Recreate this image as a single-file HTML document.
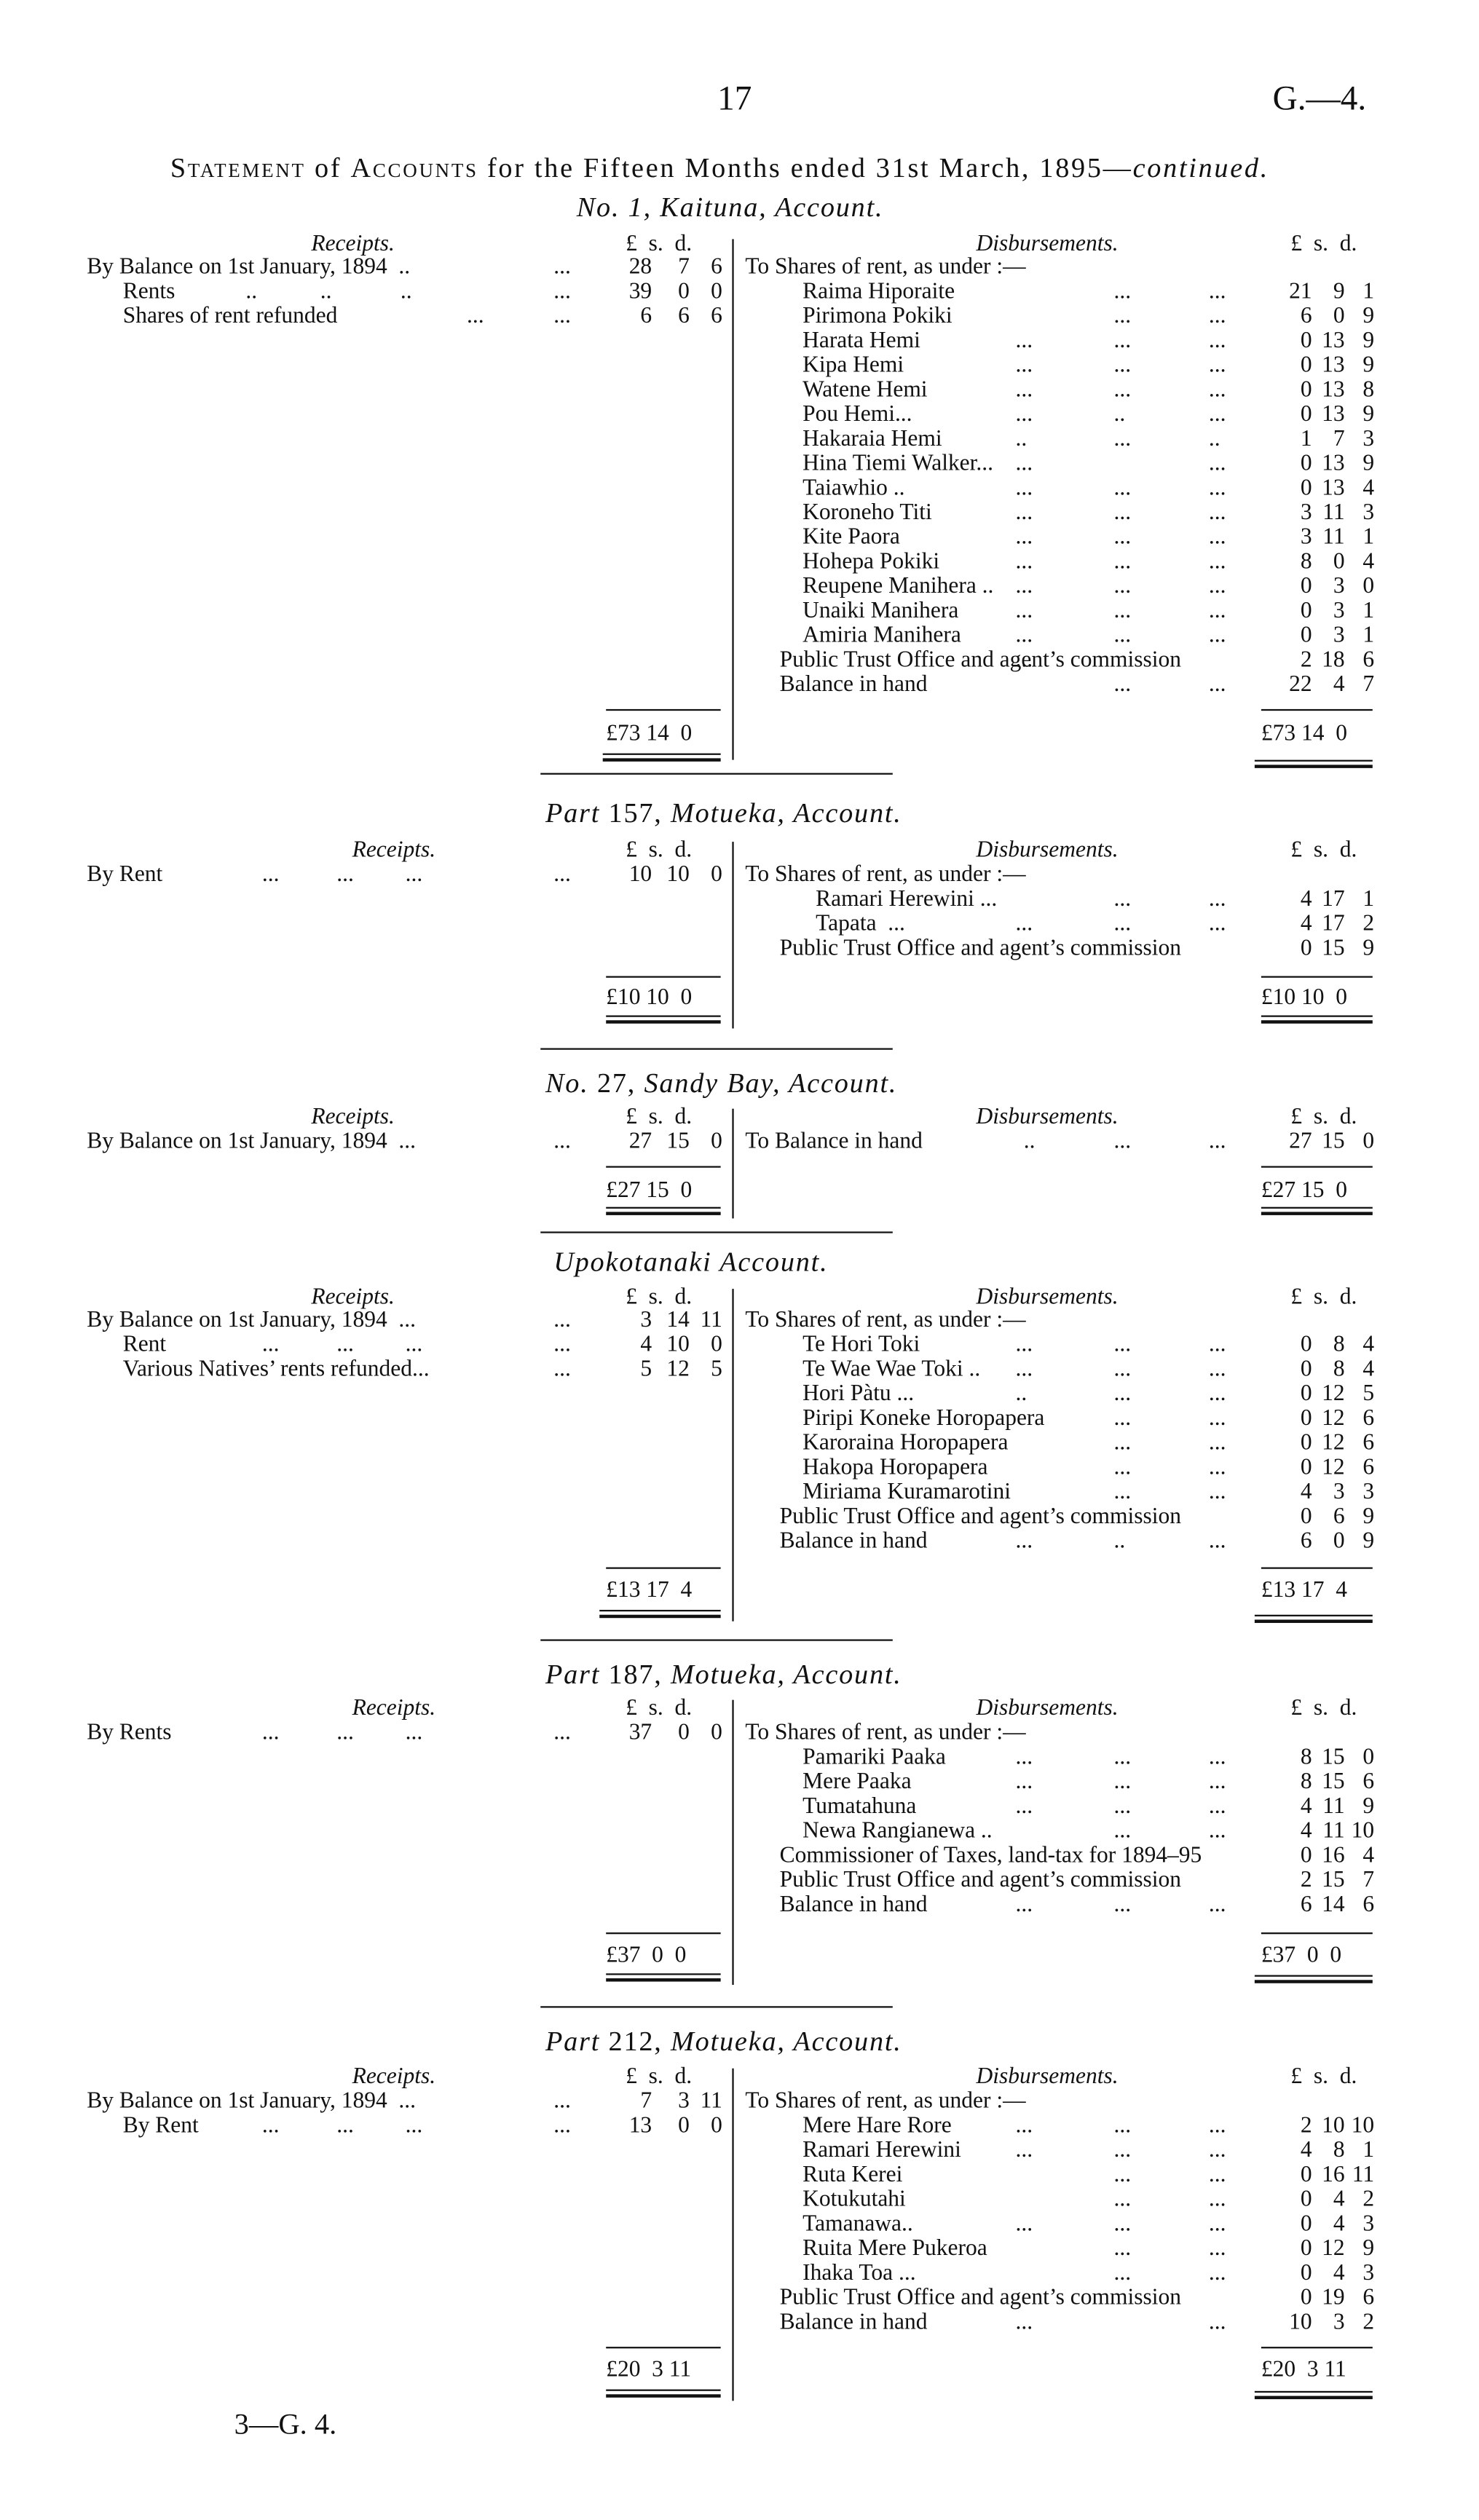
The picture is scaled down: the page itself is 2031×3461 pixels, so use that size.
<!DOCTYPE html>
<html><head><meta charset="utf-8"><style>
html,body{margin:0;padding:0;background:#fff}
#w{position:relative;width:2031px;height:3461px;overflow:hidden;background:#fff}
#s{position:absolute;left:0;top:0;width:903px;height:1539px;transform:scale(2.2492);transform-origin:0 0;font-family:"Liberation Serif",serif;color:#111}
.p{position:absolute;white-space:nowrap;line-height:16px;font-size:14px}
.r{text-align:right}
.i{font-style:italic}
.hd{font-size:17px;line-height:18px;letter-spacing:0.8px}
.h{position:absolute;background:#111;height:1px}
.v{position:absolute;background:#111;width:1px;left:447px}
</style></head><body><div id="w"><div id="s">
<div class="p" style="left:438px;top:48px;font-size:21px;line-height:24px">17</div>
<div class="p" style="left:777px;top:48px;font-size:21px;line-height:24px">G.—4.</div>
<div class="p" style="left:104px;top:94px;font-size:17px;line-height:18px;letter-spacing:1.2px"><span style="font-variant:small-caps">Statement</span> of <span style="font-variant:small-caps">Accounts</span> for the Fifteen Months ended 31st March, 1895—<i>continued.</i></div>

<!-- Kaituna -->
<div class="p i hd" style="left:352px;top:118px">No. 1, Kaituna, Account.</div>
<div class="p i" style="left:190px;top:142px">Receipts.</div>
<div class="p" style="left:382px;top:142px">£&nbsp;&nbsp;s.&nbsp;&nbsp;d.</div>
<div class="p i" style="left:596px;top:142px">Disbursements.</div>
<div class="p" style="left:788px;top:142px">£&nbsp;&nbsp;s.&nbsp;&nbsp;d.</div>
<div class="v" style="top:146px;height:318px"></div>
<div class="p" style="left:53px;top:156px">By Balance on 1st January, 1894 &nbsp;..</div><div class="p" style="left:338px;top:156px">...</div>
<div class="p r" style="right:505px;top:156px">28</div><div class="p r" style="right:482px;top:156px">7</div><div class="p r" style="right:462px;top:156px">6</div>
<div class="p" style="left:75px;top:171px">Rents</div><div class="p" style="left:150px;top:171px">..&nbsp;&nbsp;&nbsp;&nbsp;&nbsp;&nbsp;&nbsp;&nbsp;&nbsp;&nbsp;&nbsp;..&nbsp;&nbsp;&nbsp;&nbsp;&nbsp;&nbsp;&nbsp;&nbsp;&nbsp;&nbsp;&nbsp;&nbsp;..</div><div class="p" style="left:338px;top:171px">...</div>
<div class="p r" style="right:505px;top:171px">39</div><div class="p r" style="right:482px;top:171px">0</div><div class="p r" style="right:462px;top:171px">0</div>
<div class="p" style="left:75px;top:186px">Shares of rent refunded</div><div class="p" style="left:285px;top:186px">...</div><div class="p" style="left:338px;top:186px">...</div>
<div class="p r" style="right:505px;top:186px">6</div><div class="p r" style="right:482px;top:186px">6</div><div class="p r" style="right:462px;top:186px">6</div>
<div class="p" style="left:455px;top:156px">To Shares of rent, as under :—</div>

<div class="p" style="left:490px;top:171px">Raima Hiporaite</div>
<div class="p" style="left:490px;top:186px">Pirimona Pokiki</div>
<div class="p" style="left:490px;top:201px">Harata Hemi</div>
<div class="p" style="left:490px;top:216px">Kipa Hemi</div>
<div class="p" style="left:490px;top:231px">Watene Hemi</div>
<div class="p" style="left:490px;top:246px">Pou Hemi...</div>
<div class="p" style="left:490px;top:261px">Hakaraia Hemi</div>
<div class="p" style="left:490px;top:276px">Hina Tiemi Walker...</div>
<div class="p" style="left:490px;top:291px">Taiawhio ..</div>
<div class="p" style="left:490px;top:306px">Koroneho Titi</div>
<div class="p" style="left:490px;top:321px">Kite Paora</div>
<div class="p" style="left:490px;top:336px">Hohepa Pokiki</div>
<div class="p" style="left:490px;top:351px">Reupene Manihera ..</div>
<div class="p" style="left:490px;top:366px">Unaiki Manihera</div>
<div class="p" style="left:490px;top:381px">Amiria Manihera</div>
<div class="p" style="left:476px;top:396px">Public Trust Office and agent’s commission</div>
<div class="p" style="left:476px;top:411px">Balance in hand</div>
<div class="p" style="left:620px;top:201px;line-height:15px">...<br>...<br>...<br>...<br>..<br>...<br>...<br>...<br>...<br>...<br>...<br>...<br>...<br>...</div>
<div class="p" style="left:680px;top:171px;line-height:15px">...<br>...<br>...<br>...<br>...<br>..<br>...<br><br>...<br>...<br>...<br>...<br>...<br>...<br>...<br><br>...</div>
<div class="p" style="left:738px;top:171px;line-height:15px">...<br>...<br>...<br>...<br>...<br>...<br>..<br>...<br>...<br>...<br>...<br>...<br>...<br>...<br>...<br><br>...</div>
<div class="p r" style="right:102px;top:171px;line-height:15px">21<br>6<br>0<br>0<br>0<br>0<br>1<br>0<br>0<br>3<br>3<br>8<br>0<br>0<br>0<br>2<br>22</div>
<div class="p r" style="right:82px;top:171px;line-height:15px">9<br>0<br>13<br>13<br>13<br>13<br>7<br>13<br>13<br>11<br>11<br>0<br>3<br>3<br>3<br>18<br>4</div>
<div class="p r" style="right:64px;top:171px;line-height:15px">1<br>9<br>9<br>9<br>8<br>9<br>3<br>9<br>4<br>3<br>1<br>4<br>0<br>1<br>1<br>6<br>7</div>
<div class="h" style="left:370px;width:70px;top:433px"></div><div class="h" style="left:770px;width:68px;top:433px"></div>
<div class="p" style="left:370px;top:441px">£73 14 &nbsp;0</div><div class="p" style="left:770px;top:441px">£73 14 &nbsp;0</div>
<div class="h" style="left:368px;width:72px;top:460px"></div><div class="h" style="left:368px;width:72px;top:463px;height:2px"></div>
<div class="h" style="left:766px;width:72px;top:464px"></div><div class="h" style="left:766px;width:72px;top:467px;height:2px"></div>
<div class="h" style="left:330px;width:215px;top:472px"></div>

<!-- Part 157 -->
<div class="p i hd" style="left:333px;top:488px">Part <span style="font-style:normal">157,</span> Motueka, Account.</div>
<div class="p i" style="left:215px;top:512px">Receipts.</div>
<div class="p" style="left:382px;top:512px">£&nbsp;&nbsp;s.&nbsp;&nbsp;d.</div>
<div class="p i" style="left:596px;top:512px">Disbursements.</div>
<div class="p" style="left:788px;top:512px">£&nbsp;&nbsp;s.&nbsp;&nbsp;d.</div>
<div class="v" style="top:514px;height:114px"></div>
<div class="p" style="left:53px;top:527px">By Rent</div><div class="p" style="left:160px;top:527px">...&nbsp;&nbsp;&nbsp;&nbsp;&nbsp;&nbsp;&nbsp;&nbsp;&nbsp;&nbsp;...&nbsp;&nbsp;&nbsp;&nbsp;&nbsp;&nbsp;&nbsp;&nbsp;&nbsp;...</div><div class="p" style="left:338px;top:527px">...</div>
<div class="p r" style="right:505px;top:527px">10</div><div class="p r" style="right:482px;top:527px">10</div><div class="p r" style="right:462px;top:527px">0</div>
<div class="p" style="left:455px;top:527px">To Shares of rent, as under :—</div>
<div class="p" style="left:498px;top:542px">Ramari Herewini ...</div>
<div class="p" style="left:498px;top:557px">Tapata &nbsp;...</div>
<div class="p" style="left:476px;top:572px">Public Trust Office and agent’s commission</div>
<div class="p" style="left:620px;top:557px">...</div>
<div class="p" style="left:680px;top:542px;line-height:15px">...<br>...</div>
<div class="p" style="left:738px;top:542px;line-height:15px">...<br>...</div>
<div class="p r" style="right:102px;top:542px;line-height:15px">4<br>4<br>0</div>
<div class="p r" style="right:82px;top:542px;line-height:15px">17<br>17<br>15</div>
<div class="p r" style="right:64px;top:542px;line-height:15px">1<br>2<br>9</div>
<div class="h" style="left:370px;width:70px;top:596px"></div><div class="h" style="left:770px;width:68px;top:596px"></div>
<div class="p" style="left:370px;top:602px">£10 10 &nbsp;0</div><div class="p" style="left:770px;top:602px">£10 10 &nbsp;0</div>
<div class="h" style="left:370px;width:70px;top:620px"></div><div class="h" style="left:370px;width:70px;top:623px;height:2px"></div>
<div class="h" style="left:770px;width:68px;top:620px"></div><div class="h" style="left:770px;width:68px;top:623px;height:2px"></div>
<div class="h" style="left:330px;width:215px;top:640px"></div>

<!-- No 27 -->
<div class="p i hd" style="left:333px;top:653px">No. <span style="font-style:normal">27,</span> Sandy Bay, Account.</div>
<div class="p i" style="left:190px;top:675px">Receipts.</div>
<div class="p" style="left:382px;top:675px">£&nbsp;&nbsp;s.&nbsp;&nbsp;d.</div>
<div class="p i" style="left:596px;top:675px">Disbursements.</div>
<div class="p" style="left:788px;top:675px">£&nbsp;&nbsp;s.&nbsp;&nbsp;d.</div>
<div class="v" style="top:677px;height:67px"></div>
<div class="p" style="left:53px;top:690px">By Balance on 1st January, 1894 &nbsp;...</div><div class="p" style="left:338px;top:690px">...</div>
<div class="p r" style="right:505px;top:690px">27</div><div class="p r" style="right:482px;top:690px">15</div><div class="p r" style="right:462px;top:690px">0</div>
<div class="p" style="left:455px;top:690px">To Balance in hand</div><div class="p" style="left:625px;top:690px">..</div><div class="p" style="left:680px;top:690px">...</div><div class="p" style="left:738px;top:690px">...</div>
<div class="p r" style="right:102px;top:690px">27</div><div class="p r" style="right:82px;top:690px">15</div><div class="p r" style="right:64px;top:690px">0</div>
<div class="h" style="left:370px;width:70px;top:712px"></div><div class="h" style="left:770px;width:68px;top:712px"></div>
<div class="p" style="left:370px;top:720px">£27 15 &nbsp;0</div><div class="p" style="left:770px;top:720px">£27 15 &nbsp;0</div>
<div class="h" style="left:370px;width:70px;top:737px"></div><div class="h" style="left:370px;width:70px;top:740px;height:2px"></div>
<div class="h" style="left:770px;width:68px;top:737px"></div><div class="h" style="left:770px;width:68px;top:740px;height:2px"></div>
<div class="h" style="left:330px;width:215px;top:752px"></div>

<!-- Upokotanaki -->
<div class="p i hd" style="left:338px;top:762px">Upokotanaki Account.</div>
<div class="p i" style="left:190px;top:785px">Receipts.</div>
<div class="p" style="left:382px;top:785px">£&nbsp;&nbsp;s.&nbsp;&nbsp;d.</div>
<div class="p i" style="left:596px;top:785px">Disbursements.</div>
<div class="p" style="left:788px;top:785px">£&nbsp;&nbsp;s.&nbsp;&nbsp;d.</div>
<div class="v" style="top:787px;height:203px"></div>
<div class="p" style="left:53px;top:799px">By Balance on 1st January, 1894 &nbsp;...</div>
<div class="p" style="left:75px;top:814px">Rent</div><div class="p" style="left:160px;top:814px">...&nbsp;&nbsp;&nbsp;&nbsp;&nbsp;&nbsp;&nbsp;&nbsp;&nbsp;&nbsp;...&nbsp;&nbsp;&nbsp;&nbsp;&nbsp;&nbsp;&nbsp;&nbsp;&nbsp;...</div>
<div class="p" style="left:75px;top:829px">Various Natives’ rents refunded...</div>
<div class="p" style="left:338px;top:799px;line-height:15px">...<br>...<br>...</div>
<div class="p r" style="right:505px;top:799px;line-height:15px">3<br>4<br>5</div>
<div class="p r" style="right:482px;top:799px;line-height:15px">14<br>10<br>12</div>
<div class="p r" style="right:462px;top:799px;line-height:15px">11<br>0<br>5</div>
<div class="p" style="left:455px;top:799px">To Shares of rent, as under :—</div>
<div class="p" style="left:490px;top:814px;line-height:15px">Te Hori Toki<br>Te Wae Wae Toki ..<br>Hori Pàtu ...<br>Piripi Koneke Horopapera<br>Karoraina Horopapera<br>Hakopa Horopapera<br>Miriama Kuramarotini</div>
<div class="p" style="left:476px;top:919px;line-height:15px">Public Trust Office and agent’s commission<br>Balance in hand</div>
<div class="p" style="left:620px;top:814px;line-height:15px">...<br>...<br>..<br><br><br><br><br><br>...</div>
<div class="p" style="left:680px;top:814px;line-height:15px">...<br>...<br>...<br>...<br>...<br>...<br>...<br><br>..</div>
<div class="p" style="left:738px;top:814px;line-height:15px">...<br>...<br>...<br>...<br>...<br>...<br>...<br><br>...</div>
<div class="p r" style="right:102px;top:814px;line-height:15px">0<br>0<br>0<br>0<br>0<br>0<br>4<br>0<br>6</div>
<div class="p r" style="right:82px;top:814px;line-height:15px">8<br>8<br>12<br>12<br>12<br>12<br>3<br>6<br>0</div>
<div class="p r" style="right:64px;top:814px;line-height:15px">4<br>4<br>5<br>6<br>6<br>6<br>3<br>9<br>9</div>
<div class="h" style="left:370px;width:70px;top:957px"></div><div class="h" style="left:770px;width:68px;top:957px"></div>
<div class="p" style="left:370px;top:964px">£13 17 &nbsp;4</div><div class="p" style="left:770px;top:964px">£13 17 &nbsp;4</div>
<div class="h" style="left:366px;width:74px;top:983px"></div><div class="h" style="left:366px;width:74px;top:986px;height:2px"></div>
<div class="h" style="left:766px;width:72px;top:986px"></div><div class="h" style="left:766px;width:72px;top:989px;height:2px"></div>
<div class="h" style="left:330px;width:215px;top:1001px"></div>

<!-- Part 187 -->
<div class="p i hd" style="left:333px;top:1014px">Part <span style="font-style:normal">187,</span> Motueka, Account.</div>
<div class="p i" style="left:215px;top:1036px">Receipts.</div>
<div class="p" style="left:382px;top:1036px">£&nbsp;&nbsp;s.&nbsp;&nbsp;d.</div>
<div class="p i" style="left:596px;top:1036px">Disbursements.</div>
<div class="p" style="left:788px;top:1036px">£&nbsp;&nbsp;s.&nbsp;&nbsp;d.</div>
<div class="v" style="top:1038px;height:174px"></div>
<div class="p" style="left:53px;top:1051px">By Rents</div><div class="p" style="left:160px;top:1051px">...&nbsp;&nbsp;&nbsp;&nbsp;&nbsp;&nbsp;&nbsp;&nbsp;&nbsp;&nbsp;...&nbsp;&nbsp;&nbsp;&nbsp;&nbsp;&nbsp;&nbsp;&nbsp;&nbsp;...</div><div class="p" style="left:338px;top:1051px">...</div>
<div class="p r" style="right:505px;top:1051px">37</div><div class="p r" style="right:482px;top:1051px">0</div><div class="p r" style="right:462px;top:1051px">0</div>
<div class="p" style="left:455px;top:1051px">To Shares of rent, as under :—</div>
<div class="p" style="left:490px;top:1066px;line-height:15px">Pamariki Paaka<br>Mere Paaka<br>Tumatahuna<br>Newa Rangianewa ..</div>
<div class="p" style="left:476px;top:1126px;line-height:15px">Commissioner of Taxes, land-tax for 1894–95<br>Public Trust Office and agent’s commission<br>Balance in hand</div>
<div class="p" style="left:620px;top:1066px;line-height:15px">...<br>...<br>...<br><br><br><br>...</div>
<div class="p" style="left:680px;top:1066px;line-height:15px">...<br>...<br>...<br>...<br><br><br>...</div>
<div class="p" style="left:738px;top:1066px;line-height:15px">...<br>...<br>...<br>...<br><br><br>...</div>
<div class="p r" style="right:102px;top:1066px;line-height:15px">8<br>8<br>4<br>4<br>0<br>2<br>6</div>
<div class="p r" style="right:82px;top:1066px;line-height:15px">15<br>15<br>11<br>11<br>16<br>15<br>14</div>
<div class="p r" style="right:64px;top:1066px;line-height:15px">0<br>6<br>9<br>10<br>4<br>7<br>6</div>
<div class="h" style="left:370px;width:70px;top:1180px"></div><div class="h" style="left:770px;width:68px;top:1180px"></div>
<div class="p" style="left:370px;top:1187px">£37 &nbsp;0 &nbsp;0</div><div class="p" style="left:770px;top:1187px">£37 &nbsp;0 &nbsp;0</div>
<div class="h" style="left:370px;width:70px;top:1205px"></div><div class="h" style="left:370px;width:70px;top:1208px;height:2px"></div>
<div class="h" style="left:766px;width:72px;top:1206px"></div><div class="h" style="left:766px;width:72px;top:1209px;height:2px"></div>
<div class="h" style="left:330px;width:215px;top:1225px"></div>

<!-- Part 212 -->
<div class="p i hd" style="left:333px;top:1238px">Part <span style="font-style:normal">212,</span> Motueka, Account.</div>
<div class="p i" style="left:215px;top:1261px">Receipts.</div>
<div class="p" style="left:382px;top:1261px">£&nbsp;&nbsp;s.&nbsp;&nbsp;d.</div>
<div class="p i" style="left:596px;top:1261px">Disbursements.</div>
<div class="p" style="left:788px;top:1261px">£&nbsp;&nbsp;s.&nbsp;&nbsp;d.</div>
<div class="v" style="top:1263px;height:203px"></div>
<div class="p" style="left:53px;top:1276px">By Balance on 1st January, 1894 &nbsp;...</div>
<div class="p" style="left:75px;top:1291px">By Rent</div><div class="p" style="left:160px;top:1291px">...&nbsp;&nbsp;&nbsp;&nbsp;&nbsp;&nbsp;&nbsp;&nbsp;&nbsp;&nbsp;...&nbsp;&nbsp;&nbsp;&nbsp;&nbsp;&nbsp;&nbsp;&nbsp;&nbsp;...</div>
<div class="p" style="left:338px;top:1276px;line-height:15px">...<br>...</div>
<div class="p r" style="right:505px;top:1276px;line-height:15px">7<br>13</div>
<div class="p r" style="right:482px;top:1276px;line-height:15px">3<br>0</div>
<div class="p r" style="right:462px;top:1276px;line-height:15px">11<br>0</div>
<div class="p" style="left:455px;top:1276px">To Shares of rent, as under :—</div>
<div class="p" style="left:490px;top:1291px;line-height:15px">Mere Hare Rore<br>Ramari Herewini<br>Ruta Kerei<br>Kotukutahi<br>Tamanawa..<br>Ruita Mere Pukeroa<br>Ihaka Toa ...</div>
<div class="p" style="left:476px;top:1396px;line-height:15px">Public Trust Office and agent’s commission<br>Balance in hand</div>
<div class="p" style="left:620px;top:1291px;line-height:15px">...<br>...<br><br><br>...<br><br><br><br>...</div>
<div class="p" style="left:680px;top:1291px;line-height:15px">...<br>...<br>...<br>...<br>...<br>...<br>...</div>
<div class="p" style="left:738px;top:1291px;line-height:15px">...<br>...<br>...<br>...<br>...<br>...<br>...<br><br>...</div>
<div class="p r" style="right:102px;top:1291px;line-height:15px">2<br>4<br>0<br>0<br>0<br>0<br>0<br>0<br>10</div>
<div class="p r" style="right:82px;top:1291px;line-height:15px">10<br>8<br>16<br>4<br>4<br>12<br>4<br>19<br>3</div>
<div class="p r" style="right:64px;top:1291px;line-height:15px">10<br>1<br>11<br>2<br>3<br>9<br>3<br>6<br>2</div>
<div class="h" style="left:370px;width:70px;top:1433px"></div><div class="h" style="left:770px;width:68px;top:1433px"></div>
<div class="p" style="left:370px;top:1440px">£20 &nbsp;3 11</div><div class="p" style="left:770px;top:1440px">£20 &nbsp;3 11</div>
<div class="h" style="left:370px;width:70px;top:1459px"></div><div class="h" style="left:370px;width:70px;top:1462px;height:2px"></div>
<div class="h" style="left:766px;width:72px;top:1460px"></div><div class="h" style="left:766px;width:72px;top:1463px;height:2px"></div>

<div class="p" style="left:143px;top:1470px;font-size:18px;line-height:20px">3—G. 4.</div>
</div></div></body></html>
